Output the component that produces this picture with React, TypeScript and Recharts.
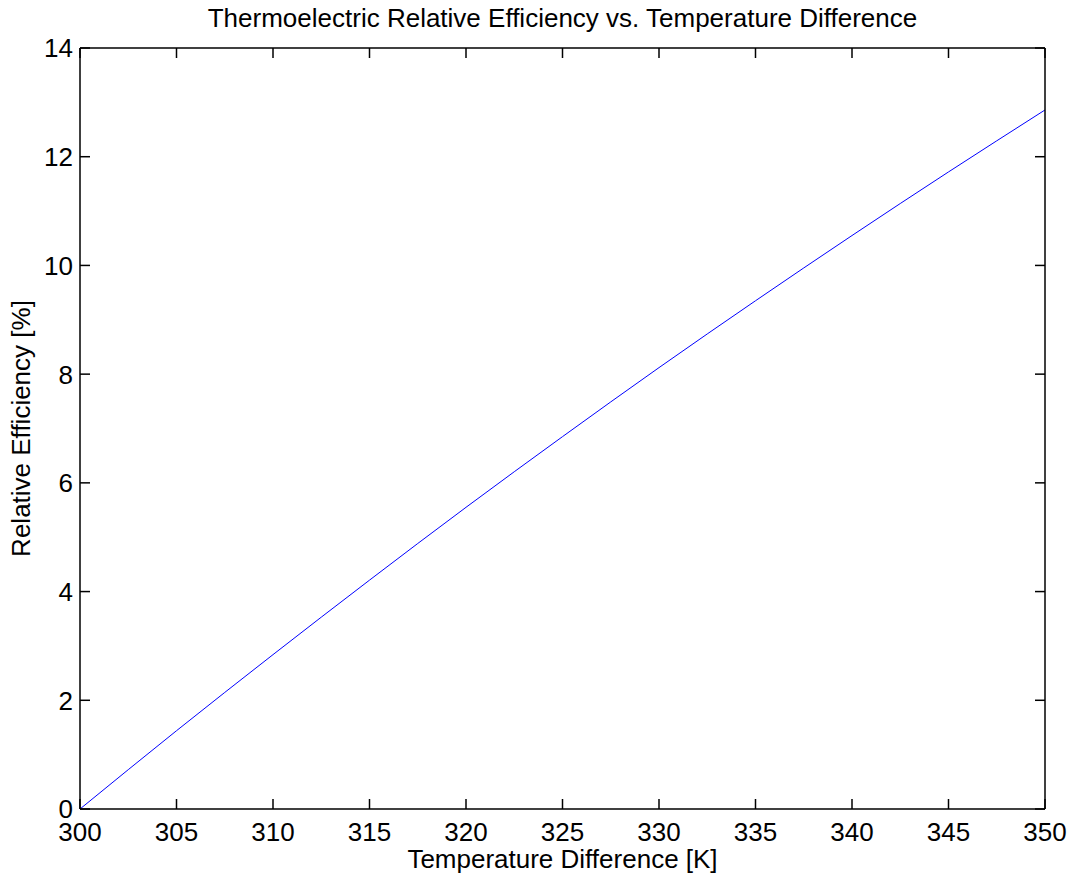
import { LineChart, Line, XAxis, YAxis, Label } from 'recharts';

// temperature difference [K] and relative efficiency [%]
const TEMPS = [300, 305, 310, 315, 320, 325, 330, 335, 340, 345, 350];
const EFFICIENCY = [0, 1.44, 2.84, 4.21, 5.55, 6.85, 8.12, 9.35, 10.55, 11.72, 12.86];

const X_TICKS = [300, 305, 310, 315, 320, 325, 330, 335, 340, 345, 350];
const Y_TICKS = [0, 2, 4, 6, 8, 10, 12, 14];

const TITLE = 'Thermoelectric Relative Efficiency vs. Temperature Difference';
const X_LABEL = 'Temperature Difference [K]';
const Y_LABEL = 'Relative Efficiency [%]';

const data = TEMPS.map((t, i) => ({ t, eff: EFFICIENCY[i] }));

const FONT = '"Liberation Sans", Arial, Helvetica, sans-serif';
const FONT_SIZE = 26;
const TICK_LEN = 10;
const AXIS_STROKE = { stroke: '#000', strokeWidth: 1.5 };

// ticks point inward, like a boxed plot
const BottomTick = ({ x, y, payload }: any) => (
  <g>
    <line x1={x} y1={y} x2={x} y2={y - TICK_LEN} stroke="#000" strokeWidth={1.5} />
    <text x={x} y={y + 32} textAnchor="middle" fontSize={FONT_SIZE} fontFamily={FONT} fill="#000">
      {payload.value}
    </text>
  </g>
);

const LeftTick = ({ x, y, payload }: any) => (
  <g>
    <line x1={x} y1={y} x2={x + TICK_LEN} y2={y} stroke="#000" strokeWidth={1.5} />
    <text x={x - 7} y={y} dy="0.36em" textAnchor="end" fontSize={FONT_SIZE} fontFamily={FONT} fill="#000">
      {payload.value}
    </text>
  </g>
);

const TopTick = ({ x, y }: any) => (
  <line x1={x} y1={y} x2={x} y2={y + TICK_LEN} stroke="#000" strokeWidth={1.5} />
);

const RightTick = ({ x, y }: any) => (
  <line x1={x} y1={y} x2={x - TICK_LEN} y2={y} stroke="#000" strokeWidth={1.5} />
);

const TitleLabel = ({ viewBox }: any) => (
  <text
    x={viewBox.x + viewBox.width / 2}
    y={viewBox.y - 20}
    textAnchor="middle"
    fontSize={FONT_SIZE}
    fontFamily={FONT}
    fill="#000"
  >
    {TITLE}
  </text>
);

const XLabel = ({ viewBox }: any) => (
  <text
    x={viewBox.x + viewBox.width / 2}
    y={viewBox.y + 59}
    textAnchor="middle"
    fontSize={FONT_SIZE}
    fontFamily={FONT}
    fill="#000"
  >
    {X_LABEL}
  </text>
);

const YLabel = ({ viewBox }: any) => {
  const cx = viewBox.x + 30;
  const cy = viewBox.y + viewBox.height / 2;
  return (
    <text
      x={cx}
      y={cy}
      transform={`rotate(-90, ${cx}, ${cy})`}
      textAnchor="middle"
      fontSize={FONT_SIZE}
      fontFamily={FONT}
      fill="#000"
    >
      {Y_LABEL}
    </text>
  );
};

export default function App() {
  return (
    <div style={{ position: 'absolute', left: 0, top: 0, width: 1071, height: 876, background: '#fff' }}>
      <LineChart width={1071} height={876} data={data} margin={{ top: 47, right: 25, bottom: 0, left: 0 }}>
        <XAxis
          xAxisId="bottom"
          dataKey="t"
          type="number"
          domain={[300, 350]}
          ticks={X_TICKS}
          height={67}
          tickSize={0}
          tickMargin={0}
          tickLine={false}
          axisLine={AXIS_STROKE}
          tick={<BottomTick />}
          interval={0}
        >
          <Label content={<XLabel />} />
        </XAxis>
        <XAxis
          xAxisId="top"
          orientation="top"
          dataKey="t"
          type="number"
          domain={[300, 350]}
          ticks={X_TICKS}
          height={1}
          tickSize={0}
          tickMargin={0}
          tickLine={false}
          axisLine={AXIS_STROKE}
          tick={<TopTick />}
          interval={0}
        >
          <Label content={<TitleLabel />} />
        </XAxis>
        <YAxis
          yAxisId="left"
          type="number"
          domain={[0, 14]}
          ticks={Y_TICKS}
          width={80}
          tickSize={0}
          tickMargin={0}
          tickLine={false}
          axisLine={AXIS_STROKE}
          tick={<LeftTick />}
          interval={0}
        >
          <Label content={<YLabel />} />
        </YAxis>
        <YAxis
          yAxisId="right"
          orientation="right"
          type="number"
          domain={[0, 14]}
          ticks={Y_TICKS}
          width={1}
          tickSize={0}
          tickMargin={0}
          tickLine={false}
          axisLine={AXIS_STROKE}
          tick={<RightTick />}
          interval={0}
        />
        <Line
          xAxisId="bottom"
          yAxisId="left"
          dataKey="eff"
          type="monotone"
          stroke="#0000ff"
          strokeWidth={1}
          dot={false}
          isAnimationActive={false}
        />
        {/* invisible copy so the top/right box axes get a series */}
        <Line
          xAxisId="top"
          yAxisId="right"
          dataKey="eff"
          stroke="none"
          dot={false}
          activeDot={false}
          isAnimationActive={false}
        />
      </LineChart>
    </div>
  );
}
